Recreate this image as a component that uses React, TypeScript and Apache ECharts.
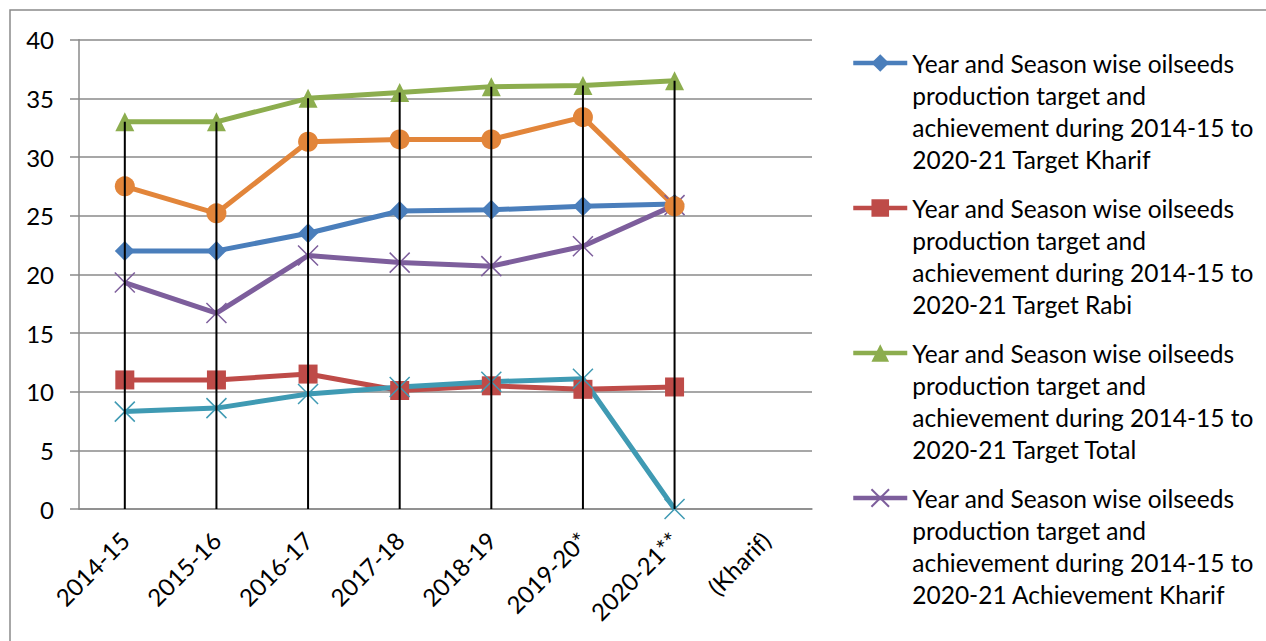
import React, { useEffect, useRef } from "react";
import * as echarts from "echarts";

const categories = ["2014-15", "2015-16", "2016-17", "2017-18", "2018-19", "2019-20*", "2020-21**", "(Kharif)"];
const yTicks = { min: 0, max: 40, interval: 5 };

const targetKharif = [22, 22, 23.5, 25.4, 25.5, 25.8, 26.0];
const targetRabi = [11, 11, 11.5, 10.1, 10.5, 10.2, 10.4];
const targetTotal = [33, 33, 35, 35.5, 36, 36.1, 36.5];
const achievementKharif = [19.3, 16.7, 21.6, 21.0, 20.7, 22.4, 25.9];
const achievementRabi = [8.3, 8.6, 9.8, 10.4, 10.85, 11.1, 0];
const achievementTotal = [27.5, 25.2, 31.3, 31.5, 31.5, 33.4, 25.8];

const prefix = "Year and Season wise oilseeds production target and achievement during 2014-15 to 2020-21 ";
const seriesNames = [
  prefix + "Target Kharif",
  prefix + "Target Rabi",
  prefix + "Target Total",
  prefix + "Achievement Kharif",
  prefix + "Achievement Rabi",
  prefix + "Achievement Total",
];

const FONT = "Lato";
const CROSS = "path://M0,0L10,10M10,0L0,10";

export default function App() {
  const ref = useRef<HTMLDivElement>(null);
  useEffect(() => {
    if (!ref.current) return;
    const chart = echarts.init(ref.current, null, { renderer: "svg" });
    const mk = (name: string, data: number[], color: string, symbol: string, size: number) => ({
      name,
      type: "line",
      data,
      z: 2,
      symbol,
      symbolSize: size,
      lineStyle: { color, width: 5 },
      itemStyle: symbol === CROSS ? { color, borderColor: color, borderWidth: 1.5 } : { color },
    });
    chart.setOption({
      animation: false,
      backgroundColor: "#ffffff",
      graphic: [
        {
          type: "rect",
          shape: { x: 10, y: 10, width: 1280, height: 660 },
          style: { fill: "none", stroke: "#8a8a8a", lineWidth: 1.5 },
          silent: true,
          z: -10,
        },
      ],
      grid: { left: 79, right: 454, top: 39.7, bottom: 132 },
      legend: {
        orient: "vertical",
        left: 851,
        top: -49,
        padding: 0,
        itemGap: -79,
        itemWidth: 54,
        itemHeight: 22,
        data: seriesNames.slice(0, 4),
        lineStyle: { width: 4.5 },
        formatter: (n: string) =>
          "\n\n\n" +
          n.replace("oilseeds ", "oilseeds\n").replace("and achievement", "and\nachievement").replace("to 2020-21", "to\n2020-21"),
        textStyle: { fontFamily: FONT, fontSize: 24.5, color: "#000", lineHeight: 32 },
      },
      xAxis: {
        type: "category",
        data: categories,
        boundaryGap: true,
        axisLine: { lineStyle: { color: "#8a8a8a", width: 1.5 } },
        axisTick: { show: false },
        axisLabel: { rotate: 45, margin: 27, fontFamily: FONT, fontSize: 24, color: "#000", interval: 0 },
      },
      yAxis: {
        type: "value",
        min: yTicks.min,
        max: yTicks.max,
        interval: yTicks.interval,
        axisLine: { show: true, lineStyle: { color: "#8a8a8a", width: 1.5 } },
        axisTick: { show: true, length: 9, lineStyle: { color: "#8a8a8a", width: 1.5 } },
        splitLine: { lineStyle: { color: "#8a8a8a", width: 1.5 } },
        axisLabel: { margin: 25, fontFamily: FONT, fontSize: 24, color: "#000" },
      },
      series: [
        mk(seriesNames[0], targetKharif, "#4A7EBB", "diamond", 20),
        mk(seriesNames[1], targetRabi, "#BE4B48", "rect", 19),
        mk(seriesNames[2], targetTotal, "#8CAD4E", "triangle", 19),
        mk(seriesNames[3], achievementKharif, "#7D5E9C", CROSS, 20),
        mk(seriesNames[4], achievementRabi, "#3F9AB3", CROSS, 20),
        mk(seriesNames[5], achievementTotal, "#E2853A", "circle", 20),
        {
          name: "drop",
          type: "bar",
          data: targetTotal,
          barWidth: 2,
          z: 10,
          silent: true,
          itemStyle: { color: "#000" },
        },
      ],
    });
    return () => chart.dispose();
  }, []);
  return (
    <div
      ref={ref}
      style={{ position: "fixed", left: 0, top: 0, width: 1266, height: 641, background: "#fff" }}
    />
  );
}
